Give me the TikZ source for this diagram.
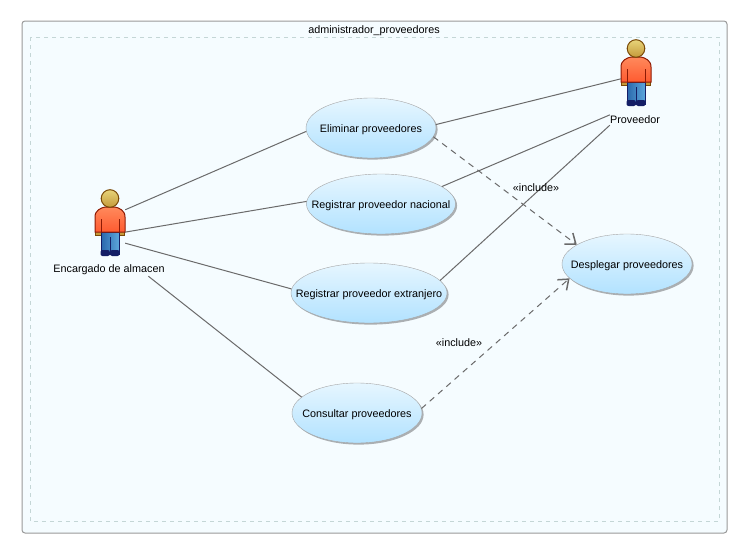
\documentclass[tikz,border=0pt]{standalone}
\usepackage{fontspec}
\setmainfont{Liberation Sans}
\usetikzlibrary{arrows.meta,shapes.geometric,shadows}
\definecolor{framefill}{HTML}{F5FCFF}
\definecolor{framedash}{HTML}{C4D6D6}
\definecolor{edgegray}{HTML}{6A6A6A}
\definecolor{caseTop}{HTML}{E6F6FF}
\definecolor{caseBottom}{HTML}{B2E2FF}
\definecolor{skinTop}{HTML}{E8D47A}
\definecolor{skinBottom}{HTML}{C49A3A}
\definecolor{skinEdge}{HTML}{7A4A08}
\definecolor{shirtTop}{HTML}{FF8A5C}
\definecolor{shirtBottom}{HTML}{FF5A30}
\definecolor{shirtEdge}{HTML}{8E1A04}
\definecolor{jeansLeft}{HTML}{2A68AC}
\definecolor{jeansRight}{HTML}{5CA6DC}
\definecolor{jeansEdge}{HTML}{141E66}
\newcommand{\casetxt}[1]{\makebox[0pt]{\smash{\raisebox{-4pt}{#1}}}}
\tikzset{
  usecase/.style={ellipse, draw=black!35, top color=caseTop, bottom color=caseBottom,
    minimum height=60pt, inner sep=0pt, font=\fontsize{10.8}{12}\selectfont,
    drop shadow={shadow xshift=1.6pt, shadow yshift=-1.6pt, fill=black, opacity=.3}},
  assoc/.style={draw=edgegray, line width=1pt},
  incl/.style={assoc, dashed, dash pattern=on 6pt off 5pt, -{Straight Barb[length=9pt,width=14pt,line width=1.5pt]}},
  actorbox/.style={minimum width=30pt, minimum height=66pt, inner sep=0pt},
  caption/.style={inner xsep=0pt, inner ysep=1pt, font=\fontsize{10.8}{12}\selectfont},
  actorfig/.pic={
    % hands
    \fill[fill=skinBottom, draw=skinEdge, line width=.5pt] (-14.5,8) rectangle (-9,12) (9,8) rectangle (14.5,12);
    % legs and shoes
    \draw[draw=jeansEdge, line width=1pt, left color=jeansLeft, right color=jeansRight] (-9,9) -- (9,9) -- (9,31) -- (-9,31) -- cycle;
    \draw[jeansEdge, line width=.8pt] (0,14) -- (0,30);
    \fill[jeansEdge, rounded corners=2pt] (-9.5,27) rectangle (-.2,33) (.2,27) rectangle (9.5,33);
    % torso
    \draw[draw=shirtEdge, line width=1pt, top color=shirtTop, bottom color=shirtBottom]
      (-15,-6) .. controls (-15,-13) and (-9,-15) .. (-5,-16) -- (5,-16) .. controls (9,-15) and (15,-13) .. (15,-6) -- (15,9) -- (-15,9) -- cycle;
    \draw[shirtEdge, line width=.8pt] (-9,-4) -- (-9,9) (9,-4) -- (9,9);
    % head
    \draw[draw=skinEdge, line width=1pt, top color=skinTop, bottom color=skinBottom] (0,-24.5) circle (8.8);
  }
}
\begin{document}
\begin{tikzpicture}[x=1pt, y=-1pt]
    \useasboundingbox (0,0) rectangle (747,554);

    % Draw frame
    \draw[draw=black!40, line width=1pt, fill=framefill, rounded corners=3pt] (22,21) rectangle (727,533);
    \draw[draw=framedash, dashed, dash pattern=on 4pt off 4pt] (30,37) rectangle (719,521);
    \node[caption] (titulo) at (374,30.5) {administrador\_proveedores};

    % Draw use cases
    \node[usecase, minimum width=130pt] (eliminar) at (371,128) {\casetxt{Eliminar proveedores}};
    \node[usecase, minimum width=149pt] (nacional) at (381,204) {\casetxt{Registrar proveedor nacional}};
    \node[usecase, minimum width=156pt] (extranjero) at (369,293) {\casetxt{Registrar proveedor extranjero}};
    \node[usecase, minimum width=130pt] (consultar) at (357,413) {\casetxt{Consultar proveedores}};
    \node[usecase, minimum width=130pt] (desplegar) at (627,264) {\casetxt{Desplegar proveedores}};

    % Draw actors
    \node[actorbox] (encargado) at (110,223) {};
    \pic at (encargado) {actorfig};
    \node[caption] (encargadolbl) at (109,270) {Encargado de almacen};
    \node[actorbox] (proveedor) at (636,73) {};
    \pic at (proveedor) {actorfig};
    \node[caption] (proveedorlbl) at (635,120) {Proveedor};

    % Draw associations
    \draw[assoc] (encargado.41) -- (eliminar.183.5);
    \draw[assoc] (encargado.-31) -- (nacional.178.5);
    \draw[assoc] (encargado.-53) -- (extranjero.177.8);
    \draw[assoc] (encargadolbl.-9) -- (consultar.164.3);
    \draw[assoc] (eliminar.3.5) -- (proveedor.201.8);
    \draw[assoc] (nacional.16.2) -- (proveedorlbl.north west);
    \draw[assoc] (extranjero.10) -- (proveedorlbl.south west);

    % Draw includes
    \draw[incl] (eliminar.-8.4) -- (desplegar.159);
    \draw[incl] (consultar.4.5) -- (desplegar.194.7);
    \node[caption] (incluir1) at (536,188) {«include»};
    \node[caption] (incluir2) at (459,343) {«include»};
\end{tikzpicture}
\end{document}
